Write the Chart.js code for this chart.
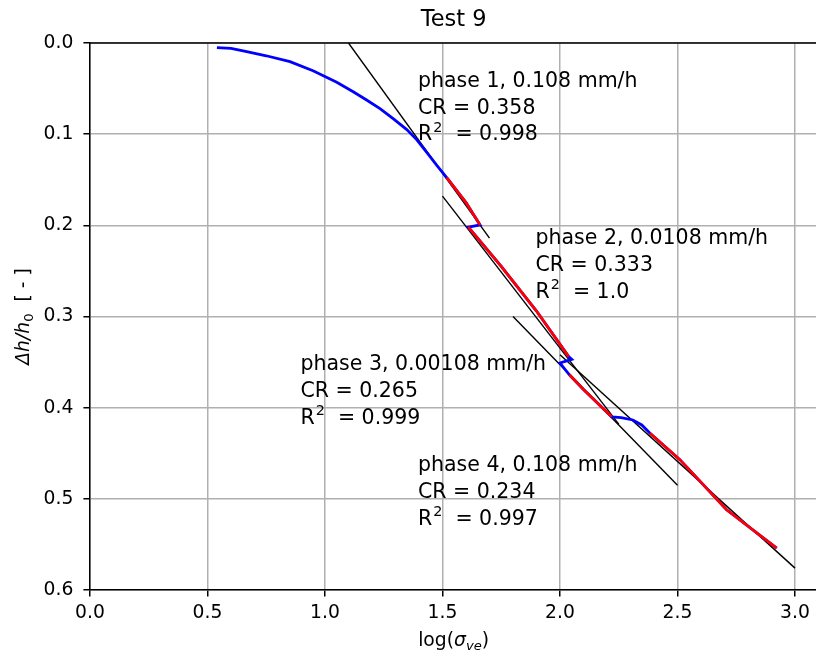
<!DOCTYPE html>
<html>
<head>
<meta charset="utf-8">
<script src="https://cdn.jsdelivr.net/npm/chart.js@4.4.0/dist/chart.umd.min.js"></script>
<style>
  body { margin: 0; overflow: hidden; background: #fff; }
  #wrap { width: 816px; height: 657px; overflow: hidden; }
</style>
</head>
<body>
<div id="wrap"><canvas id="myChart" width="840" height="657"></canvas></div>
<script>
// measured curve (blue, whole test)
const measX = [0.54, 0.60, 0.667, 0.75, 0.851, 0.949, 1.05, 1.12, 1.177, 1.234, 1.29, 1.348, 1.39, 1.433, 1.475, 1.518, 1.60, 1.66, 1.61, 1.75, 1.90, 2.037, 2.05, 2.00, 2.04, 2.10, 2.22, 2.26, 2.31, 2.348, 2.383, 2.51, 2.709, 2.922];
const measY = [0.005, 0.006, 0.0095, 0.014, 0.0205, 0.0305, 0.043, 0.0535, 0.0625, 0.072, 0.083, 0.095, 0.106, 0.120, 0.134, 0.1476, 0.175, 0.1996, 0.202, 0.245, 0.294, 0.344, 0.347, 0.351, 0.364, 0.380, 0.410, 0.411, 0.4135, 0.419, 0.428, 0.457, 0.512, 0.554];

// red parts used for the fits
const phase1X = [1.518, 1.60, 1.66];
const phase1Y = [0.1476, 0.175, 0.1996];
const phase2X = [1.61, 1.75, 1.90, 2.037];
const phase2Y = [0.202, 0.245, 0.294, 0.344];
const phase3X = [2.04, 2.10, 2.22];
const phase3Y = [0.364, 0.380, 0.410];
const phase4X = [2.383, 2.51, 2.709, 2.922];
const phase4Y = [0.428, 0.457, 0.512, 0.554];

// fitted lines, end points
const fitX = [[1.10, 1.70], [1.50, 2.25], [1.80, 2.50], [2.00, 3.00]];
const fitY = [[0.0, 0.214], [0.168, 0.418], [0.300, 0.485], [0.342, 0.576]];

// annotation texts
const phaseNames = ["phase 1, 0.108 mm/h", "phase 2, 0.0108 mm/h", "phase 3, 0.00108 mm/h", "phase 4, 0.108 mm/h"];
const crValues = ["0.358", "0.333", "0.265", "0.234"];
const r2Values = ["0.998", "1.0", "0.999", "0.997"];

const xTicks = [0.0, 0.5, 1.0, 1.5, 2.0, 2.5, 3.0];
const yTicks = [0.0, 0.1, 0.2, 0.3, 0.4, 0.5, 0.6];

const FONT = '"DejaVu Sans"';
const notePos = [[1.4, 0.048], [1.9, 0.2205], [0.9, 0.3587], [1.4, 0.4695]];

function pts(xs, ys) {
    return xs.map((x, i) => ({ x: x, y: ys[i] }));
}

// order: higher value is drawn first (underneath)
const datasets = [];
fitX.forEach((xs, i) => {
    datasets.push({ data: pts(xs, fitY[i]), borderColor: '#000', borderWidth: 1.4, showLine: true, pointRadius: 0, order: 3 });
});
datasets.push({ data: pts(measX, measY), borderColor: '#0000ff', borderWidth: 2.8, showLine: true, pointRadius: 0, order: 2 });
[[phase1X, phase1Y], [phase2X, phase2Y], [phase3X, phase3Y], [phase4X, phase4Y]].forEach(p => {
    datasets.push({ data: pts(p[0], p[1]), borderColor: '#ff0000', borderWidth: 2.8, showLine: true, pointRadius: 0, order: 1 });
});

const textPlugin = {
    id: 'texts',
    afterDraw(chart) {
        const ctx = chart.ctx;
        const a = chart.chartArea;
        const xs = chart.scales.x, ys = chart.scales.y;
        ctx.save();
        // top spine
        ctx.strokeStyle = '#000';
        ctx.lineWidth = 1.5;
        ctx.beginPath();
        ctx.moveTo(a.left, a.top);
        ctx.lineTo(a.right, a.top);
        ctx.stroke();

        ctx.fillStyle = '#000';
        // title
        ctx.font = '22.5px ' + FONT;
        ctx.textAlign = 'center';
        ctx.textBaseline = 'alphabetic';
        ctx.fillText('Test 9', (a.left + a.right) / 2 - 3, 26);

        // phase notes
        ctx.textAlign = 'left';
        const fs = 20.5, step = 26.8;
        notePos.forEach((p, i) => {
            const px = xs.getPixelForValue(p[0]) - 1;
            const py = ys.getPixelForValue(p[1]);
            ctx.font = fs + 'px ' + FONT;
            ctx.fillText(phaseNames[i], px, py);
            ctx.fillText('CR = ' + crValues[i], px, py + step);
            const y3 = py + 2 * step;
            ctx.fillText('R', px, y3);
            let w = ctx.measureText('R').width;
            ctx.font = (fs * 0.7) + 'px ' + FONT;
            ctx.fillText('2', px + w + 1, y3 - fs * 0.42);
            w += ctx.measureText('2').width + 1;
            ctx.font = fs + 'px ' + FONT;
            ctx.fillText('  = ' + r2Values[i], px + w, y3);
        });

        // x axis label: log(sigma_ve)
        const lf = 18.75;
        const parts = [
            ['log(', lf + 'px ' + FONT, 0],
            ['σ', 'italic ' + lf + 'px ' + FONT, 0],
            ['ve', 'italic ' + (lf * 0.7) + 'px ' + FONT, 4],
            [')', lf + 'px ' + FONT, 0]
        ];
        let total = 0;
        parts.forEach(p => { ctx.font = p[1]; total += ctx.measureText(p[0]).width; });
        let cx = (a.left + a.right) / 2 - total / 2 - 3;
        parts.forEach(p => {
            ctx.font = p[1];
            ctx.fillText(p[0], cx, 646 + p[2]);
            cx += ctx.measureText(p[0]).width;
        });

        // y axis label: Δh/h0 [ - ]
        const yparts = [
            ['Δh/h', 'italic ' + lf + 'px ' + FONT, 0],
            ['0', (lf * 0.7) + 'px ' + FONT, 4],
            ['  [ - ]', lf + 'px ' + FONT, 0]
        ];
        total = 0;
        yparts.forEach(p => { ctx.font = p[1]; total += ctx.measureText(p[0]).width; });
        ctx.translate(29, (a.top + a.bottom) / 2);
        ctx.rotate(-Math.PI / 2);
        cx = -total / 2;
        yparts.forEach(p => {
            ctx.font = p[1];
            ctx.fillText(p[0], cx, p[2]);
            cx += ctx.measureText(p[0]).width;
        });
        ctx.restore();
    }
};

const myChart = new Chart(document.getElementById('myChart').getContext('2d'), {
    type: 'scatter',
    data: { datasets },
    options: {
        responsive: false,
        animation: false,
        layout: { padding: { top: 43, right: 16.8, bottom: 0, left: 0 } },
        plugins: { legend: { display: false }, tooltip: { enabled: false } },
        scales: {
            x: {
                type: 'linear',
                min: 0,
                max: 3.12,
                afterBuildTicks: s => { s.ticks = xTicks.map(v => ({ value: v })); },
                afterFit: s => { s.height = 67; },
                grid: { color: '#b0b0b0', lineWidth: 1.5, tickColor: '#000', tickLength: 6.6, tickWidth: 1.5 },
                border: { color: '#000', width: 1.5 },
                ticks: { color: '#000', padding: 5, maxRotation: 0, font: { family: 'DejaVu Sans', size: 18.75 }, callback: v => v.toFixed(1) }
            },
            y: {
                type: 'linear',
                min: 0,
                max: 0.6,
                reverse: true,
                afterBuildTicks: s => { s.ticks = yTicks.map(v => ({ value: v })); },
                afterFit: s => { s.width = 90; },
                grid: { color: '#b0b0b0', lineWidth: 1.5, tickColor: '#000', tickLength: 6.6, tickWidth: 1.5 },
                border: { color: '#000', width: 1.5 },
                ticks: { color: '#000', padding: 10, font: { family: 'DejaVu Sans', size: 18.75 }, callback: v => v.toFixed(1) }
            }
        }
    },
    plugins: [textPlugin]
});
</script>
</body>
</html>
